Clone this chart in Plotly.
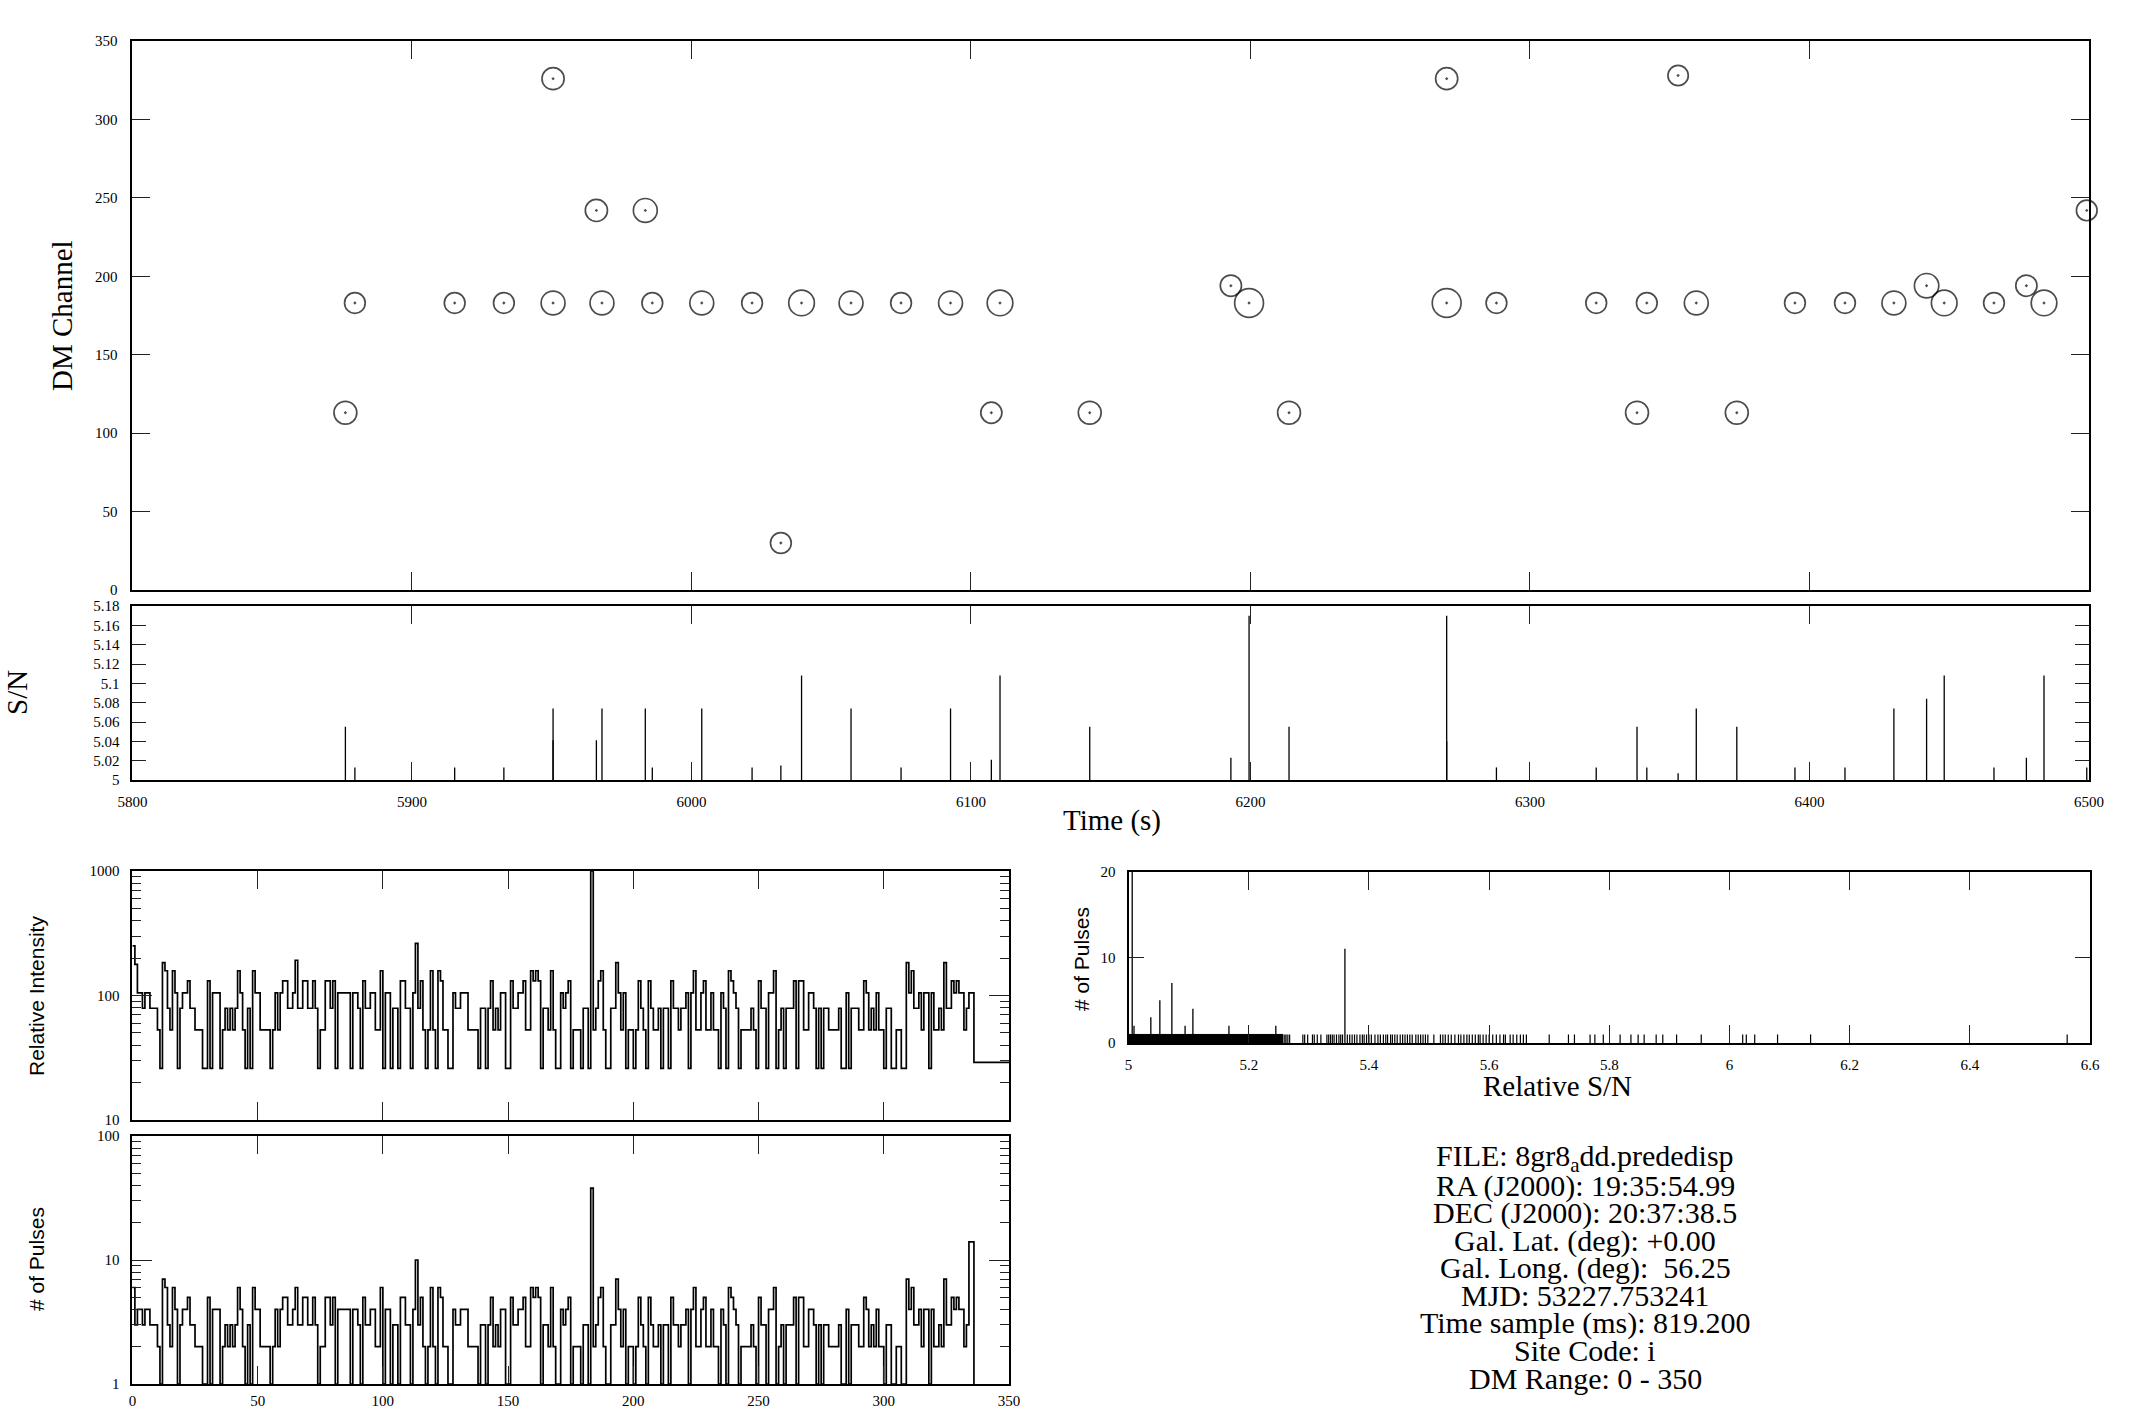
import plotly.graph_objects as go

W, H = 2141, 1411

# ---------------- data: single-pulse events (top panels) ----------------
times = [5876.2, 5879.6, 5915.3, 5932.9, 5950.5, 5950.5, 5966.0, 5968.0, 5983.5, 5986.0,
         6003.7, 6021.7, 6032.0, 6039.4, 6057.1, 6075.0, 6092.7, 6107.3, 6110.4, 6142.5,
         6193.0, 6199.5, 6213.8, 6270.2, 6270.2, 6288.0, 6323.7, 6338.3, 6341.8, 6353.0,
         6359.5, 6374.0, 6394.8, 6412.7, 6430.2, 6441.9, 6448.2, 6466.0, 6477.6, 6483.9, 6499.2]
dm_chan = [113, 183, 183, 183, 183, 326, 242, 183, 242, 183,
           183, 183, 30, 183, 183, 183, 183, 113, 183, 113,
           194, 183, 113, 326, 183, 183, 183, 113, 183, 328,
           183, 113, 183, 183, 183, 194, 183, 183, 194, 183, 242]
snr = [5.055, 5.013, 5.013, 5.013, 5.074, 5.041, 5.041, 5.074, 5.074, 5.013,
       5.074, 5.013, 5.015, 5.108, 5.074, 5.013, 5.074, 5.021, 5.108, 5.055,
       5.023, 5.170, 5.055, 5.040, 5.170, 5.013, 5.013, 5.055, 5.013, 5.007,
       5.074, 5.055, 5.013, 5.013, 5.074, 5.084, 5.108, 5.013, 5.023, 5.108, 5.013]

# ---------------- data: per-DM-channel histograms (bottom left) ----------------
pulse_counts = [
    6, 3, 4, 4, 3, 4, 4, 3, 3, 3,
    2, 1, 7, 6, 3, 2, 6, 4, 1, 3,
    4, 4, 5, 3, 3, 2, 2, 2, 1, 1,
    5, 1, 4, 4, 4, 1, 2, 3, 2, 3,
    2, 3, 6, 4, 2, 1, 3, 1, 6, 4,
    4, 2, 2, 2, 2, 1, 2, 4, 2, 4,
    5, 5, 3, 3, 4, 6, 3, 3, 5, 5,
    3, 3, 5, 3, 1, 2, 2, 5, 5, 3,
    5, 1, 4, 4, 4, 4, 4, 1, 4, 4,
    3, 1, 5, 3, 3, 4, 4, 2, 2, 6,
    1, 4, 4, 1, 3, 3, 1, 5, 5, 3,
    3, 1, 4, 10, 3, 5, 2, 1, 2, 6,
    2, 1, 6, 5, 2, 2, 1, 1, 4, 3,
    3, 4, 4, 4, 2, 2, 2, 2, 1, 3,
    3, 1, 3, 5, 2, 3, 2, 4, 4, 1,
    1, 5, 3, 3, 4, 4, 5, 2, 2, 6,
    5, 6, 5, 1, 3, 3, 2, 6, 2, 1,
    1, 4, 3, 4, 5, 1, 2, 2, 2, 1,
    3, 3, 1, 38, 2, 3, 5, 6, 2, 1,
    1, 3, 3, 7, 4, 2, 4, 1, 2, 2,
    1, 2, 5, 3, 2, 1, 5, 3, 2, 2,
    3, 1, 3, 3, 1, 5, 3, 3, 2, 3,
    3, 4, 1, 4, 6, 2, 2, 4, 5, 2,
    2, 4, 2, 2, 1, 4, 3, 1, 6, 5,
    4, 3, 1, 2, 2, 2, 2, 3, 2, 1,
    5, 3, 3, 1, 4, 4, 6, 1, 2, 3,
    1, 3, 3, 3, 5, 1, 5, 5, 2, 2,
    4, 4, 3, 1, 3, 1, 3, 3, 2, 2,
    2, 2, 3, 1, 1, 4, 1, 3, 3, 3,
    2, 2, 5, 4, 2, 3, 2, 4, 2, 2,
    1, 3, 3, 1, 1, 2, 2, 1, 1, 7,
    4, 6, 3, 3, 4, 2, 4, 4, 1, 4,
    2, 2, 3, 2, 7, 3, 3, 5, 4, 5,
    4, 4, 2, 3, 14, 14]

rel_intensity = [
    250, 178, 105, 105, 79, 105, 105, 79, 79, 79,
    53, 26, 184, 158, 79, 53, 158, 105, 26, 79,
    105, 105, 131, 79, 79, 53, 53, 53, 26, 26,
    131, 26, 105, 105, 105, 26, 53, 79, 53, 79,
    53, 79, 158, 105, 53, 26, 79, 26, 158, 105,
    105, 53, 53, 53, 53, 26, 53, 105, 53, 105,
    131, 131, 79, 79, 105, 192, 79, 79, 131, 131,
    79, 79, 131, 79, 26, 53, 53, 131, 131, 79,
    131, 26, 105, 105, 105, 105, 105, 26, 105, 105,
    79, 26, 131, 79, 79, 105, 105, 53, 53, 158,
    26, 105, 105, 26, 79, 79, 26, 131, 131, 79,
    79, 26, 105, 262, 79, 131, 53, 26, 53, 158,
    53, 26, 158, 131, 53, 53, 26, 26, 105, 79,
    79, 105, 105, 105, 53, 53, 53, 53, 26, 79,
    79, 26, 79, 131, 53, 79, 53, 105, 105, 26,
    26, 131, 79, 79, 105, 105, 131, 53, 53, 158,
    131, 158, 131, 26, 79, 79, 53, 158, 53, 26,
    26, 105, 79, 105, 131, 26, 53, 53, 53, 26,
    79, 79, 26, 1000, 53, 79, 131, 158, 53, 26,
    26, 79, 79, 184, 105, 53, 105, 26, 53, 53,
    26, 53, 131, 79, 53, 26, 131, 79, 53, 53,
    79, 26, 79, 79, 26, 131, 79, 79, 53, 79,
    79, 105, 26, 105, 158, 53, 53, 105, 131, 53,
    53, 105, 53, 53, 26, 105, 79, 26, 158, 131,
    105, 79, 26, 53, 53, 53, 53, 79, 53, 26,
    131, 79, 79, 26, 105, 105, 158, 26, 53, 79,
    26, 79, 79, 79, 131, 26, 131, 131, 53, 53,
    105, 105, 79, 26, 79, 26, 79, 79, 53, 53,
    53, 53, 79, 26, 26, 105, 26, 79, 79, 79,
    53, 53, 131, 105, 53, 79, 53, 105, 53, 53,
    26, 79, 79, 26, 26, 53, 53, 26, 26, 184,
    105, 158, 79, 79, 105, 53, 105, 105, 26, 105,
    53, 53, 79, 53, 184, 79, 79, 131, 105, 131,
    105, 105, 53, 79, 105, 105, 29]

# ---------------- data: S/N histogram (bottom right) ----------------
sn_peak_values = [5.006, 5.009, 5.037, 5.052, 5.072, 5.094, 5.107, 5.167, 5.245, 5.360]
sn_peak_counts = [20, 2, 3, 5, 7, 2, 4, 2, 2, 11]
sn_band = [5.0, 5.257]          # continuous run of 1-pulse bins
sn_band_count = 1
sn_single = [5.260, 5.262, 5.265, 5.268, 5.290, 5.293, 5.298, 5.306, 5.309, 5.314,
             5.320, 5.330, 5.333, 5.336, 5.339, 5.342, 5.346, 5.350, 5.353, 5.356,
             5.364, 5.368, 5.372, 5.376, 5.380, 5.385, 5.389, 5.392, 5.396, 5.400,
             5.404, 5.410, 5.415, 5.419, 5.424, 5.428, 5.431, 5.436, 5.439, 5.443,
             5.447, 5.452, 5.456, 5.460, 5.464, 5.468, 5.472, 5.478, 5.482, 5.486,
             5.490, 5.494, 5.498, 5.508, 5.519, 5.523, 5.527, 5.532, 5.537, 5.543,
             5.549, 5.553, 5.558, 5.563, 5.567, 5.572, 5.577, 5.582, 5.585, 5.590,
             5.595, 5.600, 5.606, 5.612, 5.618, 5.624, 5.627, 5.635, 5.640, 5.646,
             5.652, 5.657, 5.662, 5.700, 5.732, 5.742, 5.768, 5.776, 5.790, 5.818,
             5.836, 5.848, 5.858, 5.878, 5.889, 5.912, 5.953, 6.022, 6.028, 6.042,
             6.080, 6.135, 6.562]

info_lines = ["FILE: 8gr8<sub>a</sub>dd.prededisp",
              "RA (J2000): 19:35:54.99",
              "DEC (J2000): 20:37:38.5",
              "Gal. Lat. (deg): +0.00",
              "Gal. Long. (deg):  56.25",
              "MJD: 53227.753241",
              "Time sample (ms): 819.200",
              "Site Code: i",
              "DM Range: 0 - 350"]

# ---------------- helpers ----------------
def fx(px):
    return px / W

def fy(py):
    return 1 - py / H

SERIF = "Liberation Serif"
SANS = "Liberation Sans"
TICKFONT = dict(family=SERIF, size=15, color="black")


def axis(**kw):
    base = dict(showline=True, linewidth=2, linecolor="black", mirror="ticks",
                ticks="inside", ticklen=18, tickwidth=1, tickcolor="#222",
                showgrid=False, zeroline=False, tickfont=TICKFONT,
                ticklabelstandoff=8, automargin=False)
    base.update(kw)
    return base


def sticks(xs, tops, base):
    X, Y = [], []
    for x, t in zip(xs, tops):
        X += [x, x, None]
        Y += [base, t, None]
    return X, Y


fig = go.Figure()

# main DM vs time
sizes = [20 + (s - 5.0) * 52 for s in snr]
fig.add_trace(go.Scatter(
    x=times, y=dm_chan, mode="markers", xaxis="x", yaxis="y", cliponaxis=False,
    marker=dict(symbol="circle-open-dot", size=sizes, color="black",
                line=dict(color="black", width=1.7)),
    showlegend=False, hoverinfo="x+y"))

# S/N vs time sticks
sx, sy = sticks(times, snr, 5.0)
fig.add_trace(go.Scatter(x=sx, y=sy, mode="lines", xaxis="x2", yaxis="y2",
                         line=dict(color="black", width=1.3), showlegend=False))

# relative intensity step histogram
ix = list(range(len(rel_intensity))) + [350]
iy = rel_intensity + [rel_intensity[-1]]
fig.add_trace(go.Scatter(x=ix, y=iy, mode="lines", line_shape="hv", xaxis="x3", yaxis="y3",
                         line=dict(color="black", width=1.7), showlegend=False))

# number of pulses step histogram
cx = list(range(len(pulse_counts))) + [len(pulse_counts), len(pulse_counts)]
cy = pulse_counts + [pulse_counts[-1], 1]
fig.add_trace(go.Scatter(x=cx, y=cy, mode="lines", line_shape="hv", xaxis="x4", yaxis="y4",
                         line=dict(color="black", width=1.7), showlegend=False))

# S/N histogram
fig.add_trace(go.Scatter(x=[sn_band[0], sn_band[0], sn_band[1], sn_band[1]],
                         y=[0, sn_band_count, sn_band_count, 0], mode="lines", fill="toself",
                         fillcolor="black", line=dict(color="black", width=1),
                         xaxis="x5", yaxis="y5", showlegend=False))
bx, by = sticks(sn_single, [1] * len(sn_single), 0)
fig.add_trace(go.Scatter(x=bx, y=by, mode="lines", xaxis="x5", yaxis="y5",
                         line=dict(color="black", width=1.2), showlegend=False))
px_, py_ = sticks(sn_peak_values, sn_peak_counts, 0)
fig.add_trace(go.Scatter(x=px_, y=py_, mode="lines", xaxis="x5", yaxis="y5",
                         line=dict(color="black", width=1.3), showlegend=False))

# ---------------- layout ----------------
main_x = [fx(132.4), fx(2089)]
bl_x = [fx(132.4), fx(1009)]
br_x = [fx(1128.6), fx(2090)]

log_minor = lambda lo, hi: [m * 10 ** e for e in range(lo, hi) for m in range(2, 10)]

fig.update_layout(
    width=W, height=H, margin=dict(l=0, r=0, t=0, b=0, autoexpand=False),
    paper_bgcolor="white", plot_bgcolor="white", showlegend=False,
    xaxis=axis(domain=main_x, anchor="y", range=[5800, 6500], dtick=100,
               showticklabels=False),
    yaxis=axis(domain=[fy(590), fy(41)], anchor="x", range=[0, 350], dtick=50,
               ticklabelstandoff=10),
    xaxis2=axis(domain=main_x, anchor="y2", range=[5800, 6500], dtick=100,
                ticklabelstandoff=7),
    yaxis2=axis(domain=[fy(780), fy(606)], anchor="x2", range=[5.0, 5.18], dtick=0.02,
                ticklen=14),
    xaxis3=axis(domain=bl_x, anchor="y3", range=[0, 350], dtick=50, showticklabels=False),
    yaxis3=axis(domain=[fy(1120), fy(871)], anchor="x3", type="log", range=[1, 3],
                tickvals=[10, 100, 1000], ticktext=["10", "100", "1000"], ticklen=20,
                minor=dict(ticks="inside", ticklen=9, tickcolor="#222", tickwidth=1,
                           tickvals=log_minor(1, 3), showgrid=False)),
    xaxis4=axis(domain=bl_x, anchor="y4", range=[0, 350], dtick=50, ticklabelstandoff=2),
    yaxis4=axis(domain=[fy(1384), fy(1136)], anchor="x4", type="log", range=[0, 2],
                tickvals=[1, 10, 100], ticktext=["1", "10", "100"], ticklen=20,
                minor=dict(ticks="inside", ticklen=9, tickcolor="#222", tickwidth=1,
                           tickvals=log_minor(0, 2), showgrid=False)),
    xaxis5=axis(domain=br_x, anchor="y5", range=[5.0, 6.6], dtick=0.2, ticklabelstandoff=7),
    yaxis5=axis(domain=[fy(1043), fy(871.7)], anchor="x5", range=[0, 20], dtick=10,
                ticklen=15),
)

ann = []


def label(text, x, y, size, family=SERIF, angle=0):
    ann.append(dict(text=text, x=fx(x), y=fy(y), xref="paper", yref="paper",
                    xanchor="center", yanchor="middle", showarrow=False, textangle=angle,
                    font=dict(family=family, size=size, color="black")))


label("DM Channel", 62, 316, 29, angle=-90)
label("S/N", 17, 693, 29, angle=-90)
label("Time (s)", 1112, 820, 29)
label("Relative Intensity", 36, 996, 21, family=SANS, angle=-90)
label("# of Pulses", 36, 1259, 21, family=SANS, angle=-90)
label("# of Pulses", 1081, 959, 21, family=SANS, angle=-90)
label("Relative S/N", 1557, 1086, 29)

for i, line in enumerate(info_lines):
    label(line, 1585, 1158 + i * 27.5, 30)

fig.update_layout(annotations=ann)

fig.write_html("out.html", config={"displayModeBar": False},
               post_script="document.body.style.margin='0';")
